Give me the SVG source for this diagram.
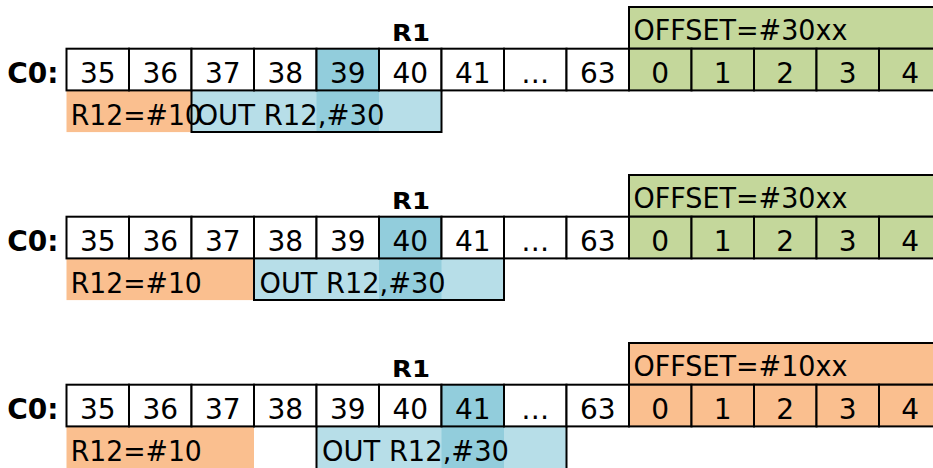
<svg xmlns="http://www.w3.org/2000/svg" width="933" height="468" viewBox="0 0 933 468">
<defs>
<style>
.bg{fill:#ffffff}
.c{fill:#ffffff;stroke:#000;stroke-width:2}
.ch{fill:#92CDDC;stroke:#000;stroke-width:2}
.cg{fill:#C4D79B;stroke:#000;stroke-width:2}
.co{fill:#FABF8F;stroke:#000;stroke-width:2}
.o{fill:#FABF8F}
.lb{fill:#B7DEE8}
.hl{fill:#92CDDC}
.ol{fill:none;stroke:#000;stroke-width:2}
text{font-family:"DejaVu Sans",Verdana,sans-serif;font-size:28px;fill:#000}
.m{text-anchor:middle}
.e{text-anchor:end}
.b{font-weight:bold}
.r1{font-weight:bold;font-size:22.5px;text-anchor:middle}
</style>
</defs>
<rect class="bg" x="0" y="0" width="933" height="468"/>
<g id="connectors"/>

<!-- Row 1 -->
<g id="row1">
  <g id="row1-labels">
    <text class="r1" x="411" y="40.7" textLength="38" lengthAdjust="spacingAndGlyphs">R1</text>
    <text class="b e" x="58.5" y="83">C0:</text>
  </g>
  <g id="row1-offset">
    <rect class="cg" x="629" y="7" width="320" height="41.7"/>
    <text x="633.5" y="40" textLength="214" lengthAdjust="spacingAndGlyphs">OFFSET=#30xx</text>
  </g>
  <g id="row1-lower">
    <rect class="o" x="66.5" y="90.4" width="125" height="41.7"/>
    <rect class="lb" x="191.5" y="90.4" width="250" height="41.7"/>
    <rect class="hl" x="316.5" y="90.4" width="62.5" height="41.7"/>
  </g>
  <g id="row1-cells">
    <rect class="c" x="66.5" y="48.7" width="62.5" height="41.7"/>
    <rect class="c" x="129" y="48.7" width="62.5" height="41.7"/>
    <rect class="c" x="191.5" y="48.7" width="62.5" height="41.7"/>
    <rect class="c" x="254" y="48.7" width="62.5" height="41.7"/>
    <rect class="ch" x="316.5" y="48.7" width="62.5" height="41.7"/>
    <rect class="c" x="379" y="48.7" width="62.5" height="41.7"/>
    <rect class="c" x="441.5" y="48.7" width="62.5" height="41.7"/>
    <rect class="c" x="504" y="48.7" width="62.5" height="41.7"/>
    <rect class="c" x="566.5" y="48.7" width="62.5" height="41.7"/>
    <rect class="cg" x="629" y="48.7" width="62.5" height="41.7"/>
    <rect class="cg" x="691.5" y="48.7" width="62.5" height="41.7"/>
    <rect class="cg" x="754" y="48.7" width="62.5" height="41.7"/>
    <rect class="cg" x="816.5" y="48.7" width="62.5" height="41.7"/>
    <rect class="cg" x="879" y="48.7" width="62.5" height="41.7"/>
    <text class="m" x="97.75" y="83">35</text>
    <text class="m" x="160.25" y="83">36</text>
    <text class="m" x="222.75" y="83">37</text>
    <text class="m" x="285.25" y="83">38</text>
    <text class="m" x="347.75" y="83">39</text>
    <text class="m" x="410.25" y="83">40</text>
    <text class="m" x="472.75" y="83">41</text>
    <text class="m" x="535.25" y="83">…</text>
    <text class="m" x="597.75" y="83">63</text>
    <text class="m" x="660.25" y="83">0</text>
    <text class="m" x="722.75" y="83">1</text>
    <text class="m" x="785.25" y="83">2</text>
    <text class="m" x="847.75" y="83">3</text>
    <text class="m" x="910.25" y="83">4</text>
  </g>
  <g id="row1-r12">
    <text x="70.8" y="124.7" textLength="131" lengthAdjust="spacingAndGlyphs">R12=#10</text>
  </g>
  <g id="row1-out">
    <path class="ol" d="M191.5,90.4 V132.1 H441.5 V90.4"/>
    <text x="196.5" y="124.7" textLength="188" lengthAdjust="spacingAndGlyphs">OUT R12,#30</text>
  </g>
</g>

<!-- Row 2 -->
<g id="row2" transform="translate(0,168)">
  <g id="row2-labels">
    <text class="r1" x="411" y="40.7" textLength="38" lengthAdjust="spacingAndGlyphs">R1</text>
    <text class="b e" x="58.5" y="83">C0:</text>
  </g>
  <g id="row2-offset">
    <rect class="cg" x="629" y="7" width="320" height="41.7"/>
    <text x="633.5" y="40" textLength="214" lengthAdjust="spacingAndGlyphs">OFFSET=#30xx</text>
  </g>
  <g id="row2-lower">
    <rect class="o" x="66.5" y="90.4" width="187.5" height="41.7"/>
    <rect class="lb" x="254" y="90.4" width="250" height="41.7"/>
    <rect class="hl" x="379" y="90.4" width="62.5" height="41.7"/>
  </g>
  <g id="row2-cells">
    <rect class="c" x="66.5" y="48.7" width="62.5" height="41.7"/>
    <rect class="c" x="129" y="48.7" width="62.5" height="41.7"/>
    <rect class="c" x="191.5" y="48.7" width="62.5" height="41.7"/>
    <rect class="c" x="254" y="48.7" width="62.5" height="41.7"/>
    <rect class="c" x="316.5" y="48.7" width="62.5" height="41.7"/>
    <rect class="ch" x="379" y="48.7" width="62.5" height="41.7"/>
    <rect class="c" x="441.5" y="48.7" width="62.5" height="41.7"/>
    <rect class="c" x="504" y="48.7" width="62.5" height="41.7"/>
    <rect class="c" x="566.5" y="48.7" width="62.5" height="41.7"/>
    <rect class="cg" x="629" y="48.7" width="62.5" height="41.7"/>
    <rect class="cg" x="691.5" y="48.7" width="62.5" height="41.7"/>
    <rect class="cg" x="754" y="48.7" width="62.5" height="41.7"/>
    <rect class="cg" x="816.5" y="48.7" width="62.5" height="41.7"/>
    <rect class="cg" x="879" y="48.7" width="62.5" height="41.7"/>
    <text class="m" x="97.75" y="83">35</text>
    <text class="m" x="160.25" y="83">36</text>
    <text class="m" x="222.75" y="83">37</text>
    <text class="m" x="285.25" y="83">38</text>
    <text class="m" x="347.75" y="83">39</text>
    <text class="m" x="410.25" y="83">40</text>
    <text class="m" x="472.75" y="83">41</text>
    <text class="m" x="535.25" y="83">…</text>
    <text class="m" x="597.75" y="83">63</text>
    <text class="m" x="660.25" y="83">0</text>
    <text class="m" x="722.75" y="83">1</text>
    <text class="m" x="785.25" y="83">2</text>
    <text class="m" x="847.75" y="83">3</text>
    <text class="m" x="910.25" y="83">4</text>
  </g>
  <g id="row2-r12">
    <text x="70.8" y="124.7" textLength="131" lengthAdjust="spacingAndGlyphs">R12=#10</text>
  </g>
  <g id="row2-out">
    <path class="ol" d="M254,90.4 V132.1 H504 V90.4"/>
    <text x="259.5" y="124.7" textLength="186" lengthAdjust="spacingAndGlyphs">OUT R12,#30</text>
  </g>
</g>

<!-- Row 3 -->
<g id="row3" transform="translate(0,336)">
  <g id="row3-labels">
    <text class="r1" x="411" y="40.7" textLength="38" lengthAdjust="spacingAndGlyphs">R1</text>
    <text class="b e" x="58.5" y="83">C0:</text>
  </g>
  <g id="row3-offset">
    <rect class="co" x="629" y="7" width="320" height="41.7"/>
    <text x="633.5" y="40" textLength="214" lengthAdjust="spacingAndGlyphs">OFFSET=#10xx</text>
  </g>
  <g id="row3-lower">
    <rect class="o" x="66.5" y="90.4" width="187.5" height="46"/>
    <rect class="lb" x="316.5" y="90.4" width="250" height="46"/>
    <rect class="hl" x="441.5" y="90.4" width="62.5" height="46"/>
  </g>
  <g id="row3-cells">
    <rect class="c" x="66.5" y="48.7" width="62.5" height="41.7"/>
    <rect class="c" x="129" y="48.7" width="62.5" height="41.7"/>
    <rect class="c" x="191.5" y="48.7" width="62.5" height="41.7"/>
    <rect class="c" x="254" y="48.7" width="62.5" height="41.7"/>
    <rect class="c" x="316.5" y="48.7" width="62.5" height="41.7"/>
    <rect class="c" x="379" y="48.7" width="62.5" height="41.7"/>
    <rect class="ch" x="441.5" y="48.7" width="62.5" height="41.7"/>
    <rect class="c" x="504" y="48.7" width="62.5" height="41.7"/>
    <rect class="c" x="566.5" y="48.7" width="62.5" height="41.7"/>
    <rect class="co" x="629" y="48.7" width="62.5" height="41.7"/>
    <rect class="co" x="691.5" y="48.7" width="62.5" height="41.7"/>
    <rect class="co" x="754" y="48.7" width="62.5" height="41.7"/>
    <rect class="co" x="816.5" y="48.7" width="62.5" height="41.7"/>
    <rect class="co" x="879" y="48.7" width="62.5" height="41.7"/>
    <text class="m" x="97.75" y="83">35</text>
    <text class="m" x="160.25" y="83">36</text>
    <text class="m" x="222.75" y="83">37</text>
    <text class="m" x="285.25" y="83">38</text>
    <text class="m" x="347.75" y="83">39</text>
    <text class="m" x="410.25" y="83">40</text>
    <text class="m" x="472.75" y="83">41</text>
    <text class="m" x="535.25" y="83">…</text>
    <text class="m" x="597.75" y="83">63</text>
    <text class="m" x="660.25" y="83">0</text>
    <text class="m" x="722.75" y="83">1</text>
    <text class="m" x="785.25" y="83">2</text>
    <text class="m" x="847.75" y="83">3</text>
    <text class="m" x="910.25" y="83">4</text>
  </g>
  <g id="row3-r12">
    <text x="70.8" y="124.7" textLength="131" lengthAdjust="spacingAndGlyphs">R12=#10</text>
  </g>
  <g id="row3-out">
    <path class="ol" d="M316.5,90.4 V140 M566.5,140 V90.4"/>
    <text x="322" y="124.7" textLength="187" lengthAdjust="spacingAndGlyphs">OUT R12,#30</text>
  </g>
</g>
</svg>
